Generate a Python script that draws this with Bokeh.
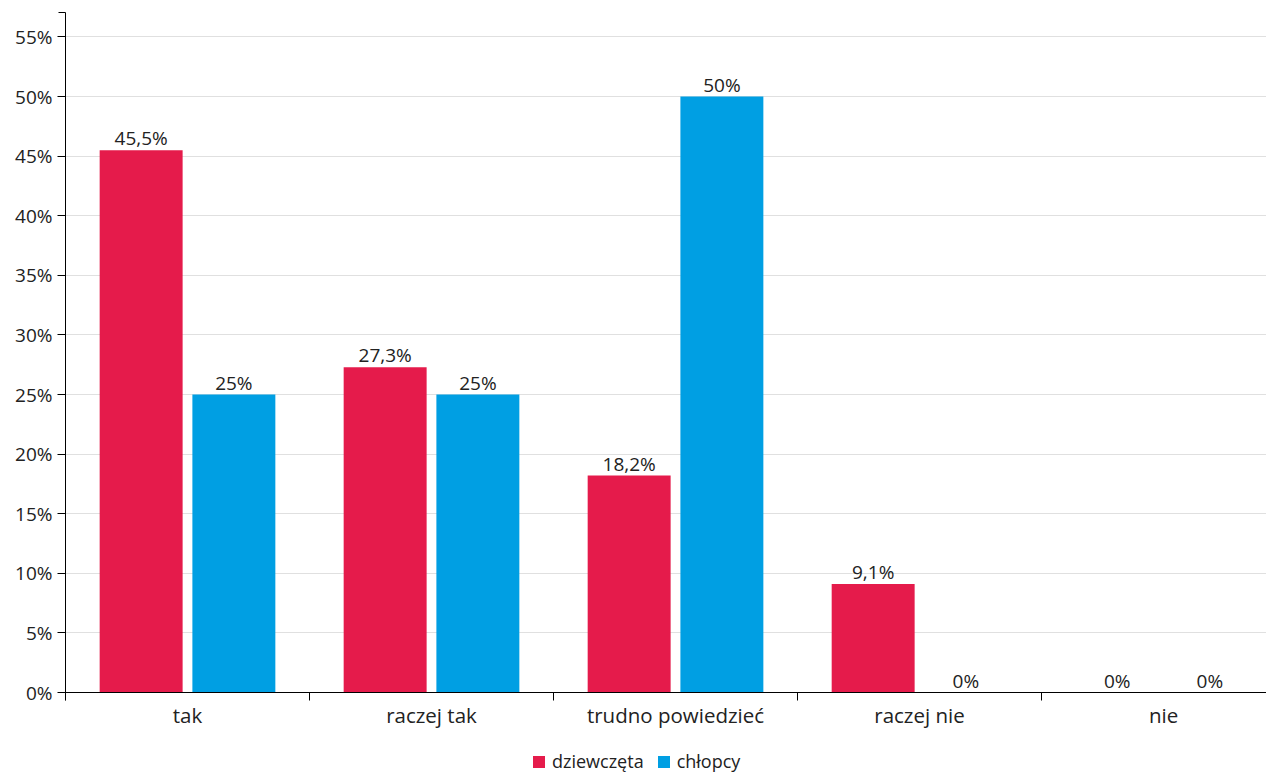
from bokeh.plotting import figure
from bokeh.models import ColumnDataSource, Range1d, FixedTicker, Legend, LegendItem, LinearAxis
from bokeh.embed import file_html
from bokeh.resources import INLINE
from bokeh.core.properties import value

categories = ["tak", "raczej tak", "trudno powiedzieć", "raczej nie", "nie"]
girls = [45.5, 27.3, 18.2, 9.1, 0]
boys = [25, 25, 50, 0, 0]
series_names = ["dziewczęta", "chłopcy"]
colors = ["#E51B4B", "#009FE3"]
y_ticks = [0, 5, 10, 15, 20, 25, 30, 35, 40, 45, 50, 55]

FONT = "Open Sans"
TXT = "#222222"

def fmt(v):
    s = ("%g" % v).replace(".", ",")
    return s + "%"

centers = [i + 0.5 for i in range(len(categories))]
offset = 0.19
bw = 0.34
Y_TOP = 57.05
Y_BOTTOM = -6.79

p = figure(width=1266, height=773, output_backend="svg", toolbar_location=None,
           x_range=Range1d(0, 4.922), y_range=Range1d(Y_BOTTOM, Y_TOP),
           min_border_left=65, min_border_right=0, min_border_top=12, min_border_bottom=0)
p.outline_line_color = None
p.xaxis.visible = False
p.yaxis.visible = False
p.xgrid.visible = False
p.ygrid.ticker = FixedTicker(ticks=y_ticks[1:])
p.ygrid.grid_line_color = "#e0e0e0"
p.ygrid.grid_line_width = 1

renderers = []
for k, (vals, col) in enumerate(zip([girls, boys], colors)):
    xs = [c + (-offset if k == 0 else offset) for c in centers]
    src = ColumnDataSource(dict(x=xs, top=vals, lab=[fmt(v) for v in vals]))
    r = p.vbar(x="x", top="top", width=bw, bottom=0, source=src, fill_color=col, line_color=None)
    renderers.append(r)
    p.text(x="x", y="top", text="lab", source=src, text_align="center", text_baseline="bottom",
           y_offset=1, text_font=value(FONT), text_font_size="19px", text_color=TXT)

# x axis (drawn at y = 0 inside the frame)
xax = LinearAxis(fixed_location=0)
xax.ticker = FixedTicker(ticks=centers, minor_ticks=[0, 1, 2, 3, 4, 5])
xax.major_label_overrides = {c: name for c, name in zip(centers, categories)}
xax.major_tick_out = 0
xax.major_tick_in = 0
xax.minor_tick_out = 8
xax.minor_tick_in = 0
xax.minor_tick_line_color = "#000000"
xax.axis_line_color = "#000000"
xax.major_label_standoff = 0
xax.major_label_text_font = FONT
xax.major_label_text_font_size = "20.5px"
xax.major_label_text_color = TXT
p.add_layout(xax, "below")

# y axis
yax = LinearAxis(bounds=(-0.67, Y_TOP))
yax.ticker = FixedTicker(ticks=y_ticks, minor_ticks=[Y_TOP])
yax.major_label_overrides = {t: "%d%%" % t for t in y_ticks}
yax.major_tick_out = 8
yax.major_tick_in = 0
yax.minor_tick_out = 7
yax.minor_tick_in = 0
yax.minor_tick_line_color = "#000000"
yax.major_tick_line_color = "#000000"
yax.axis_line_color = "#000000"
yax.major_label_standoff = 5
yax.major_label_text_font = FONT
yax.major_label_text_font_size = "19px"
yax.major_label_text_color = TXT
p.add_layout(yax, "left")

legend = Legend(items=[LegendItem(label=series_names[i], renderers=[renderers[i]]) for i in range(2)],
                orientation="horizontal", location=(466, 0),
                border_line_color=None, background_fill_alpha=0,
                padding=0, margin=0, spacing=12, label_standoff=6,
                glyph_width=15, glyph_height=15, label_height=13,
                label_text_line_height=0.6,
                label_text_font=FONT, label_text_font_size="18px", label_text_color=TXT)
p.add_layout(legend, "center")

open("out.html", "w").write(file_html(p, INLINE))
